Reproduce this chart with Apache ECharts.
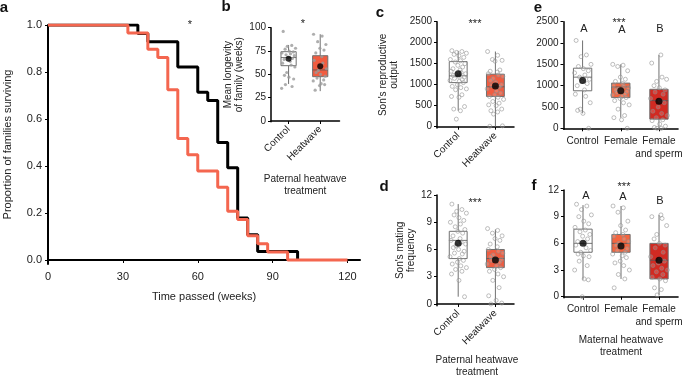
<!DOCTYPE html>
<html>
<head>
<meta charset="utf-8">
<script src="https://cdn.jsdelivr.net/npm/echarts@6/dist/echarts.min.js"></script>
<style>
html, body { margin: 0; padding: 0; background: #fff; }
#chart { width: 685px; height: 376px; }
</style>
</head>
<body>
<div id="chart"></div>
<script>
var FONT = '"Liberation Sans", Arial, Helvetica, sans-serif';
var TXT = '#222';

// a - survival curves (Kaplan-Meier steps)
var weeksControl = [0, 36, 40, 52, 60, 64, 68, 72, 76, 80, 84, 100];
var survControl = [1, 0.964, 0.929, 0.821, 0.714, 0.679, 0.5, 0.393, 0.179, 0.107, 0.036, 0];
var weeksHeat = [0, 32, 40, 44, 48, 52, 56, 60, 68, 72, 76, 80, 84, 88, 96, 120];
var survHeat = [1, 0.966, 0.897, 0.862, 0.724, 0.517, 0.448, 0.379, 0.31, 0.207, 0.172, 0.103, 0.069, 0.034, 0, 0];
var weekTicks = [0, 30, 60, 90, 120];
var propTicks = [0, 0.2, 0.4, 0.6, 0.8, 1.0];

// b - mean longevity of family
var patGroups = ['Control', 'Heatwave'];
var bStats = [[39.7, 59.3, 68, 74.3, 81.5], [32, 47.5, 54.7, 70, 93]]; // min q1 med q3 max
var bMeans = [66.6, 58.6];
var bControl = [96, 81, 80, 78, 77, 75, 74, 73, 72, 71, 70, 68, 67, 66, 64, 62, 60, 58, 52, 49, 47, 45, 39, 37, 35];
var bHeat = [93, 91, 85, 82, 78, 76, 73, 69, 65, 62, 56, 54, 52, 50, 48, 46, 44, 43, 40, 39, 38, 33];
var bTicks = [0, 25, 50, 75, 100];

// c - son's reproductive output
var cStats = [[380, 1050, 1210, 1550, 1800], [0, 720, 950, 1250, 1790]];
var cMeans = [1260, 970];
var cControl = [1810, 1790, 1770, 1750, 1720, 1690, 1650, 1600, 1570, 1540, 1500, 1460, 1420, 1380, 1350, 1320, 1290, 1260, 1240, 1220, 1200, 1180, 1150, 1120, 1100, 1080, 1050, 1000, 960, 930, 900, 880, 760, 720, 700, 480, 420, 380, 180];
var cHeat = [1790, 1700, 1600, 1580, 1560, 1350, 1320, 1300, 1260, 1230, 1200, 1150, 1100, 1050, 1000, 980, 950, 900, 850, 800, 760, 720, 700, 650, 600, 560, 520, 500, 420, 380, 350, 300, 20, 10];
var outTicks = [0, 500, 1000, 1500, 2000, 2500];

// d - son's mating frequency
var dStats = [[0.8, 5, 7, 8, 11], [0, 4, 5, 6, 8.2]];
var dMeans = [6.7, 4.85];
var dControl = [11, 10.4, 10.2, 10, 9.8, 9.5, 9.2, 9, 8.8, 8.5, 8.2, 8, 7.8, 7.5, 7.2, 7, 6.8, 6.6, 6.4, 6.2, 6, 5.8, 5.6, 5.5, 5.2, 5, 4.8, 4.6, 4.4, 4.2, 4, 3.8, 3.6, 3.3, 2.6, 0.8];
var dHeat = [8.3, 8.1, 7.8, 7.5, 7.2, 7, 6.6, 6.3, 6, 5.8, 5.6, 5.4, 5.2, 5, 4.9, 4.8, 4.6, 4.4, 4.2, 4, 3.8, 3.6, 3.3, 3, 2.6, 1.8, 0.9, 0.4, 0.1, 0];
var freqTicks = [0, 3, 6, 9, 12];

// e / f - maternal heatwave treatment
var matGroups = ['Control', 'Female', 'Female\nand sperm'];
var eStats = [[350, 880, 1200, 1410, 2060], [250, 720, 970, 1060, 1500], [0, 215, 650, 915, 1720]];
var eMeans = [1120, 880, 635];
var eControl = [2060, 1720, 1680, 1500, 1450, 1400, 1350, 1300, 1250, 1200, 1150, 1100, 1050, 1000, 900, 800, 750, 600, 450, 420, 350, 0];
var eFemale = [1500, 1480, 1450, 1350, 1200, 1150, 1100, 1050, 1000, 980, 950, 920, 900, 880, 860, 840, 800, 780, 750, 720, 700, 650, 600, 550, 450, 300, 250, 200, 0];
var eSperm = [1720, 1530, 1200, 1150, 1100, 1000, 950, 900, 850, 800, 700, 650, 600, 500, 400, 350, 300, 250, 200, 180, 100, 50, 20, 0, 0];
var fStats = [[1.9, 5, 6, 7.6, 10.3], [2, 5, 6, 7, 10.2], [0.2, 2, 4.1, 6, 9.2]];
var fMeans = [6, 5.7, 4.1];
var fControl = [10.4, 10.2, 9.8, 9.2, 9, 8.5, 8.2, 7.8, 7.5, 7.3, 7, 6.8, 6.5, 6.2, 6, 5.8, 5.5, 5.2, 5, 4.8, 4.6, 4.5, 4, 3.5, 3, 2, 1.9, 0];
var fFemale = [10.2, 10, 9.5, 8.5, 8, 7.5, 7.2, 7, 6.8, 6.5, 6.2, 6, 5.8, 5.6, 5.4, 5.2, 5, 4.8, 4.6, 4.4, 4, 3.8, 3.5, 3, 2.5, 2, 1];
var fSperm = [9.2, 9, 8.8, 8, 7, 6.5, 6, 5.8, 5.5, 5, 4.5, 4.2, 4, 3.8, 3.5, 3.2, 3, 2.8, 2.5, 2.2, 2, 1.8, 1, 0.8, 0.2];

// hand-set horizontal jitter for the raw points (category units)
var JIT = [-0.17, 0.1, -0.04, 0.22, -0.11, 0.02, 0.15, -0.21, 0.06, -0.08, 0.18, -0.01, 0.12, -0.14, 0.05,
  -0.19, 0.08, 0.2, -0.06, -0.13, 0.01, 0.16, -0.1, 0.11, -0.22, 0.03, 0.14, -0.02, -0.16, 0.07,
  0.22, -0.07, 0.1, -0.18, 0.02, 0.17, -0.12, 0.06, -0.05, 0.19, -0.15, 0.09, -0.02, 0.13, -0.2];

var RED_LINE = '#f4664f';
var HEAT = '#f15c40';
var FEMALE = '#f4653f';
var SPERM = '#d12a22';

function pairs(xs, ys) {
  return xs.map(function (x, i) { return [x, ys[i]]; });
}

function renderBox(params, api) {
  var x = api.value(0);
  var lo = api.coord([x, api.value(1)]);
  var q1 = api.coord([x, api.value(2)]);
  var md = api.coord([x, api.value(3)]);
  var q3 = api.coord([x, api.value(4)]);
  var hi = api.coord([x, api.value(5)]);
  var w = api.size([1, 0])[0] * 0.48;
  var grey = '#707070';
  return {
    type: 'group',
    children: [
      { type: 'line', shape: { x1: lo[0], y1: lo[1], x2: q1[0], y2: q1[1] }, style: { stroke: grey, lineWidth: 1 } },
      { type: 'line', shape: { x1: q3[0], y1: q3[1], x2: hi[0], y2: hi[1] }, style: { stroke: grey, lineWidth: 1 } },
      { type: 'rect', shape: { x: q3[0] - w / 2, y: q3[1], width: w, height: q1[1] - q3[1] },
        style: { fill: api.visual('color'), stroke: grey, lineWidth: 1 } },
      { type: 'line', shape: { x1: md[0] - w / 2, y1: md[1], x2: md[0] + w / 2, y2: md[1] }, style: { stroke: '#555', lineWidth: 0.8 } }
    ]
  };
}

function boxSeries(g, stats, means, groupsPts, fills, filledPts, meanSize) {
  var pts = [];
  groupsPts.forEach(function (arr, gi) {
    arr.forEach(function (v, i) { pts.push([gi + 1 + JIT[(i + gi * 7) % JIT.length], v]); });
  });
  return [
    {
      type: 'custom', xAxisIndex: g, yAxisIndex: g, renderItem: renderBox, z: 2,
      encode: { x: 0, y: [1, 2, 3, 4, 5] },
      data: stats.map(function (s, i) { return { value: [i + 1].concat(s), itemStyle: { color: fills[i] } }; })
    },
    {
      type: 'scatter', xAxisIndex: g, yAxisIndex: g, z: 3, symbolSize: filledPts ? 3.2 : 4,
      itemStyle: filledPts ? { color: '#9a9a9a', opacity: 0.8 } :
        { color: 'rgba(255,255,255,0.2)', borderColor: '#8c8c8c', borderWidth: 0.7 },
      data: pts
    },
    {
      type: 'scatter', xAxisIndex: g, yAxisIndex: g, z: 4, symbolSize: meanSize,
      itemStyle: { color: '#000' },
      data: means.map(function (m, i) { return [i + 1, m]; })
    }
  ];
}

var axisLine = { lineStyle: { color: '#000', width: 1.5 } };
var tick = function (vals) { return { customValues: vals, length: 3, lineStyle: { color: '#000' } }; };
var lab = function (vals, extra) {
  var o = {
    customValues: vals, fontSize: 10, color: TXT, fontFamily: FONT, margin: 5,
    formatter: function (v) { return String(v); }
  };
  for (var k in extra) o[k] = extra[k];
  return o;
};
var nameStyle = { fontSize: 10, color: TXT, fontFamily: FONT, lineHeight: 11 };
var bottomName = { fontSize: 10, color: TXT, fontFamily: FONT, lineHeight: 12 };

function groupFmt(groups) {
  return function (v) { return groups[Math.round(v) - 1]; };
}
function catX(g, min, max, groups, extra) {
  var ticks = groups.map(function (_, i) { return i + 1; });
  var o = {
    gridIndex: g, type: 'value', position: 'bottom', min: min, max: max, splitLine: { show: false },
    axisLine: axisLine, axisTick: tick(ticks),
    axisLabel: lab(ticks, { formatter: groupFmt(groups) })
  };
  for (var k in extra) o[k] = extra[k];
  return o;
}
// label-only category axis (all labels forced visible)
function labelX(g, groups) {
  return {
    gridIndex: g, type: 'category', position: 'bottom', data: groups, boundaryGap: true,
    axisLine: { show: false }, axisTick: { show: false }, splitLine: { show: false },
    axisLabel: { interval: 0, fontSize: 10, color: TXT, fontFamily: FONT, margin: 5, lineHeight: 13 }
  };
}
function valY(g, min, max, ticks, extra) {
  var o = {
    gridIndex: g, type: 'value', min: min, max: max, splitLine: { show: false },
    axisLine: axisLine, axisTick: tick(ticks), axisLabel: lab(ticks, {})
  };
  for (var k in extra) o[k] = extra[k];
  return o;
}

var option = {
  backgroundColor: '#fff',
  animation: false,
  textStyle: { fontFamily: FONT },
  grid: [
    { left: 48, top: 25, width: 312, height: 239 },
    { left: 271, top: 27.7, width: 68.5, height: 94 },
    { left: 437, top: 21.7, width: 77, height: 106.3 },
    { left: 437, top: 195, width: 77, height: 110.7 },
    { left: 563.5, top: 21.7, width: 118, height: 107.6 },
    { left: 564, top: 190, width: 118, height: 107.7 }
  ],
  xAxis: [
    {
      gridIndex: 0, type: 'value', min: 0, max: 125, splitLine: { show: false },
      axisLine: { lineStyle: { color: '#000', width: 2 } }, axisTick: tick(weekTicks),
      axisLabel: lab(weekTicks, { fontSize: 11, margin: 7 }),
      name: 'Time passed (weeks)', nameLocation: 'middle', nameGap: 27,
      nameTextStyle: { fontSize: 11, color: TXT, fontFamily: FONT }
    },
    catX(1, 0.444, 2.61, patGroups, {
      axisLabel: lab([1, 2], { rotate: 45, margin: 6, formatter: groupFmt(patGroups) }),
      name: 'Paternal heatwave\ntreatment', nameLocation: 'middle', nameGap: 52,
      nameTextStyle: bottomName
    }),
    catX(2, 0.43, 2.5, patGroups, {
      axisLabel: lab([1, 2], { rotate: 45, margin: 6, formatter: groupFmt(patGroups) })
    }),
    catX(3, 0.43, 2.5, patGroups, {
      axisLabel: lab([1, 2], { rotate: 45, margin: 6, formatter: groupFmt(patGroups) })
    }),
    catX(4, 0.5, 3.5, matGroups, { axisLabel: { show: false } }),
    catX(5, 0.5, 3.5, matGroups, {
      axisLabel: { show: false },
      name: 'Maternal heatwave\ntreatment', nameLocation: 'middle', nameGap: 37,
      nameTextStyle: bottomName
    }),
    labelX(4, matGroups),
    labelX(5, matGroups)
  ],
  yAxis: [
    {
      gridIndex: 0, type: 'value', min: -0.017, max: 1.0, splitLine: { show: false },
      axisLine: { lineStyle: { color: '#000', width: 2 } }, axisTick: tick(propTicks),
      axisLabel: lab(propTicks, { fontSize: 11, margin: 6, formatter: function (v) { return v.toFixed(1); } }),
      name: 'Proportion of families surviving', nameLocation: 'middle', nameGap: 35,
      nameTextStyle: { fontSize: 11, color: TXT, fontFamily: FONT }
    },
    valY(1, -0.75, 100, bTicks, { name: 'Mean longevity\nof family (weeks)', nameLocation: 'middle', nameGap: 26, nameTextStyle: nameStyle }),
    valY(2, -31, 2500, outTicks, { name: "Son's reproductive\noutput", nameLocation: 'middle', nameGap: 37, nameTextStyle: nameStyle }),
    valY(3, -0.19, 12, freqTicks, { name: "Son's mating\nfrequency", nameLocation: 'middle', nameGap: 20, nameTextStyle: nameStyle }),
    valY(4, -23, 2500, outTicks, {}),
    valY(5, -0.11, 12, freqTicks, {})
  ],
  series: [
    {
      type: 'line', xAxisIndex: 0, yAxisIndex: 0, step: 'end', showSymbol: false, z: 3,
      lineStyle: { color: '#000', width: 3 }, itemStyle: { color: '#000' },
      data: pairs(weeksControl, survControl)
    },
    {
      type: 'line', xAxisIndex: 0, yAxisIndex: 0, step: 'end', showSymbol: false, z: 4,
      lineStyle: { color: RED_LINE, width: 3 }, itemStyle: { color: RED_LINE },
      data: pairs(weeksHeat, survHeat)
    }
  ]
    .concat(boxSeries(1, bStats, bMeans, [bControl, bHeat], ['#fff', HEAT], true, 6))
    .concat(boxSeries(2, cStats, cMeans, [cControl, cHeat], ['#fff', HEAT], false, 7))
    .concat(boxSeries(3, dStats, dMeans, [dControl, dHeat], ['#fff', HEAT], false, 7))
    .concat(boxSeries(4, eStats, eMeans, [eControl, eFemale, eSperm], ['#fff', FEMALE, SPERM], false, 7))
    .concat(boxSeries(5, fStats, fMeans, [fControl, fFemale, fSperm], ['#fff', FEMALE, SPERM], false, 7)),
  graphic: []
};

// panel letters, significance stars, group letters
function txt(x, y, s, size, bold, lh) {
  return {
    type: 'text', x: x, y: y, z: 10,
    style: { text: s, fill: bold ? '#111' : TXT, font: (bold ? 'bold ' : '') + size + 'px ' + FONT,
      align: 'center', verticalAlign: 'middle', lineHeight: lh || size }
  };
}
[['a', 4, 8], ['b', 226, 7], ['c', 380, 13], ['d', 384, 187], ['e', 538, 8], ['f', 534, 186]].forEach(function (p) {
  option.graphic.push(txt(p[1], p[2], p[0], 15, true));
});
[['*', 190, 25], ['*', 303, 24], ['***', 475, 24], ['***', 475, 203], ['***', 619, 23], ['***', 624, 187]].forEach(function (p) {
  option.graphic.push(txt(p[1], p[2], p[0], 11, false));
});
[['A', 584, 29], ['A', 622, 30], ['B', 660, 29], ['A', 586, 196], ['A', 623, 197], ['B', 660, 201]].forEach(function (p) {
  option.graphic.push(txt(p[1], p[2], p[0], 11, false));
});
// treatment caption under panel d
option.graphic.push(txt(477, 366, 'Paternal heatwave\ntreatment', 10, false, 11.5));

var chart = echarts.init(document.getElementById('chart'), null, { renderer: 'canvas' });
chart.setOption(option);
</script>
</body>
</html>
